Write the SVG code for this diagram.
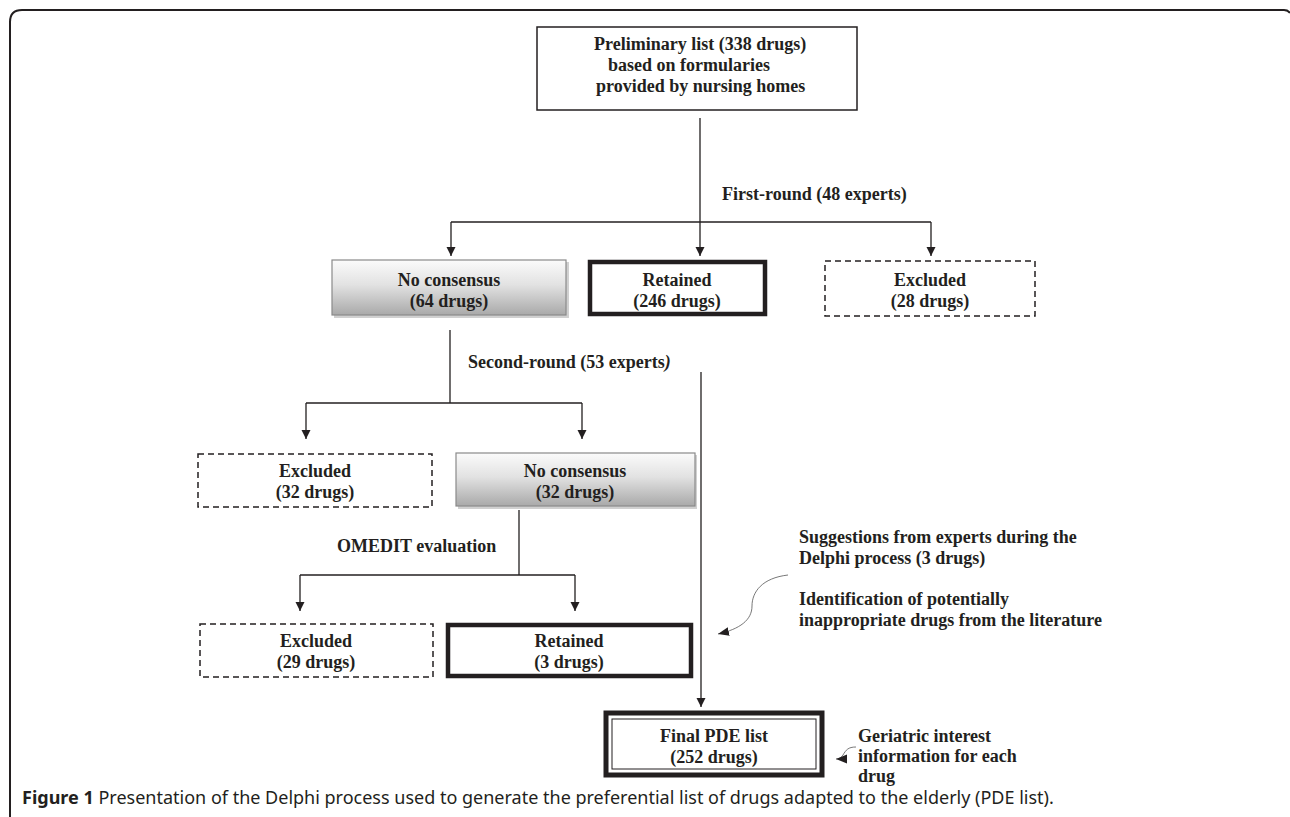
<svg xmlns="http://www.w3.org/2000/svg" width="1290" height="817" viewBox="0 0 1290 817">
<defs>
<linearGradient id="gray" x1="0" y1="0" x2="0" y2="1">
<stop offset="0" stop-color="#fbfbfb"/>
<stop offset="0.45" stop-color="#e2e2e2"/>
<stop offset="1" stop-color="#a9a9a9"/>
</linearGradient>
<marker id="arr" viewBox="0 0 10 10" refX="10" refY="5" markerWidth="9" markerHeight="10" markerUnits="userSpaceOnUse" orient="auto">
<path d="M0,0 L10,5 L0,10 z" fill="#231f20"/>
</marker>
<marker id="arr2" viewBox="0 0 10 10" refX="10" refY="5" markerWidth="11" markerHeight="11" markerUnits="userSpaceOnUse" orient="auto">
<path d="M0,1 L10,5 L0,9 z" fill="#231f20"/>
</marker>
</defs>
<style>
.t{font-family:"Liberation Serif","Times New Roman",serif;font-weight:bold;font-size:18px;fill:#231f20}
.c{text-anchor:middle}
.ln{fill:none;stroke:#231f20;stroke-width:1.3}
.cv{fill:none;stroke:#555;stroke-width:0.8}
.plain{fill:#fff;stroke:#231f20;stroke-width:1.5}
.thick{fill:#fff;stroke:#231f20;stroke-width:4.5}
.dash{fill:#fff;stroke:#231f20;stroke-width:1.5;stroke-dasharray:6 4}
.grad{fill:url(#gray);stroke:#8a8a8a;stroke-width:1.2}
.shadow{fill:#d0d0d0}
.cap{font-family:"Noto Sans","Open Sans",sans-serif;font-size:18px;fill:#231f20}
</style>
<rect width="1290" height="817" fill="#fff"/>
<path d="M10,817 V22 Q10,10 22,10 H1284 Q1288,10 1290,13" fill="none" stroke="#231f20" stroke-width="2"/>

<g id="connectors">
<path class="ln" d="M700,118 V256" marker-end="url(#arr)"/>
<path class="ln" d="M451,222 H931"/>
<path class="ln" d="M451,222 V256" marker-end="url(#arr)"/>
<path class="ln" d="M931,222 V256" marker-end="url(#arr)"/>
<path class="ln" d="M450,330 V403"/>
<path class="ln" d="M306,403 H582"/>
<path class="ln" d="M306,403 V439" marker-end="url(#arr)"/>
<path class="ln" d="M582,403 V439" marker-end="url(#arr)"/>
<path class="ln" d="M519,510 V575"/>
<path class="ln" d="M300,575 H575"/>
<path class="ln" d="M300,575 V611" marker-end="url(#arr)"/>
<path class="ln" d="M575,575 V611" marker-end="url(#arr)"/>
<path class="ln" d="M701,372 V707" marker-end="url(#arr)"/>
<path class="cv" d="M788,575 C762,578 752,592 752,606 C752,620 740,629 718,634" marker-end="url(#arr2)"/>
<path class="cv" d="M856,747 C848,747 846,750 843,755 C841,758 839,759 836,759" marker-end="url(#arr2)"/>
</g>

<g id="n-prelim">
<rect class="plain" x="537" y="27" width="320" height="83"/>
<text class="t" x="594" y="50">Preliminary list (338 drugs)</text>
<text class="t" x="608" y="71">based on formularies</text>
<text class="t" x="596" y="92">provided by nursing homes</text>
</g>
<text class="t" x="722" y="200">First-round (48 experts)</text>

<g id="n-nocons64">
<rect class="shadow" x="334" y="262" width="235" height="56"/>
<rect class="grad" x="332" y="260" width="234" height="55"/>
<text class="t c" x="449" y="286">No consensus</text>
<text class="t c" x="449" y="307">(64 drugs)</text>
</g>
<g id="n-ret246">
<rect class="thick" x="590" y="262" width="175" height="52"/>
<text class="t c" x="677" y="286">Retained</text>
<text class="t c" x="677" y="307">(246 drugs)</text>
</g>
<g id="n-exc28">
<rect class="dash" x="825" y="261" width="210" height="55"/>
<text class="t c" x="930" y="286">Excluded</text>
<text class="t c" x="930" y="307">(28 drugs)</text>
</g>

<text class="t" x="468" y="368">Second-round (53 experts<tspan font-style="italic">)</tspan></text>

<g id="n-exc32">
<rect class="dash" x="198" y="454" width="234" height="53"/>
<text class="t c" x="315" y="477">Excluded</text>
<text class="t c" x="315" y="498">(32 drugs)</text>
</g>
<g id="n-nocons32">
<rect class="shadow" x="458" y="455" width="239" height="54"/>
<rect class="grad" x="456" y="453" width="239" height="53"/>
<text class="t c" x="575" y="477">No consensus</text>
<text class="t c" x="575" y="498">(32 drugs)</text>
</g>

<text class="t" x="337" y="552">OMEDIT evaluation</text>

<g id="n-exc29">
<rect class="dash" x="200" y="624" width="233" height="53"/>
<text class="t c" x="316" y="647">Excluded</text>
<text class="t c" x="316" y="668">(29 drugs)</text>
</g>
<g id="n-ret3">
<rect class="thick" x="448" y="625" width="243" height="51"/>
<text class="t c" x="569" y="647">Retained</text>
<text class="t c" x="569" y="668">(3 drugs)</text>
</g>

<g id="n-suggest">
<text class="t" x="799" y="543">Suggestions from experts during the</text>
<text class="t" x="799" y="564">Delphi process (3 drugs)</text>
<text class="t" x="799" y="605">Identification of potentially</text>
<text class="t" x="799" y="626">inappropriate drugs from the literature</text>
</g>

<g id="n-final">
<rect fill="#fff" stroke="#231f20" stroke-width="5" x="606" y="713" width="216" height="62"/>
<rect fill="none" stroke="#231f20" stroke-width="1" x="612" y="719" width="204" height="50"/>
<text class="t c" x="714" y="742">Final PDE list</text>
<text class="t c" x="714" y="763">(252 drugs)</text>
</g>

<g id="n-geri">
<text class="t" x="858" y="742">Geriatric interest</text>
<text class="t" x="858" y="762">information for each</text>
<text class="t" x="858" y="782">drug</text>
</g>

<text class="cap" x="22" y="804"><tspan font-weight="bold">Figure 1</tspan> Presentation of the Delphi process used to generate the preferential list of drugs adapted to the elderly (PDE list).</text>
</svg>
